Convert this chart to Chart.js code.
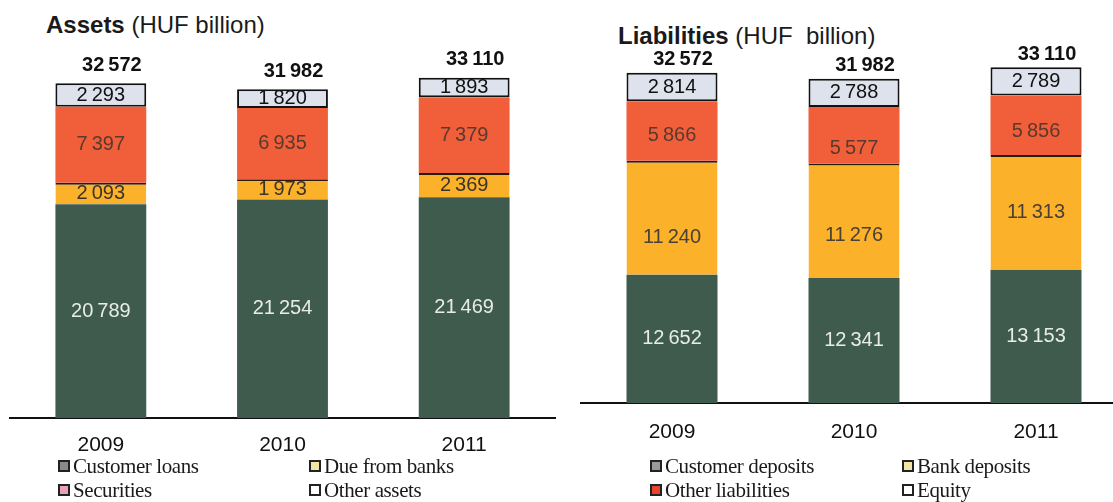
<!DOCTYPE html>
<html>
<head>
<meta charset="utf-8">
<script src="https://cdn.jsdelivr.net/npm/chart.js@4.4.1/dist/chart.umd.min.js"></script>
<style>
  html, body { margin: 0; padding: 0; background: #fff; }
  body { width: 1113px; height: 502px; position: relative; overflow: hidden; }
  canvas { position: absolute; top: 0; }
  #assets { left: 0; }
  #liabilities { left: 550px; }
  .title { position: absolute; font: 24px "Liberation Sans", Arial, sans-serif; color: #1a1a1a; line-height: 24px; white-space: pre; }
  .item { position: absolute; white-space: nowrap; font: 21px "Liberation Serif", serif; color: #1a1a1a; line-height: 22px; letter-spacing: -0.4px; }
  .sw { display: inline-block; width: 8px; height: 8px; border: 2px solid #222; margin-right: 3px; vertical-align: 1px; }
</style>
</head>
<body>
<div class="title" style="left:46px; top:13px"><b>Assets</b> (HUF billion)</div>
<div class="title" style="left:618px; top:24px"><b>Liabilities</b> (HUF  billion)</div>
<canvas id="assets" width="560" height="502"></canvas>
<canvas id="liabilities" width="580" height="502"></canvas>
<div id="assetsLegend"></div>
<div id="liabilitiesLegend"></div>

<script>
const years = ['2009', '2010', '2011']

// assets side
const customerLoans = [20789, 21254, 21469]
const dueFromBanks = [2093, 1973, 2369]
const securities = [7397, 6935, 7379]
const otherAssets = [2293, 1820, 1893]
const assetTotals = [32572, 31982, 33110]

// liabilities side
const customerDeposits = [12652, 12341, 13153]
const bankDeposits = [11240, 11276, 11313]
const otherLiabilities = [5866, 5577, 5856]
const equity = [2814, 2788, 2789]
const liabilityTotals = [32572, 31982, 33110]

const green = 'rgb(62, 91, 77)'
const yellow = 'rgb(251, 177, 42)'
const red = 'rgb(240, 94, 58)'
const pale = 'rgb(221, 226, 236)'
const labelFamily = '"Liberation Sans", Arial, sans-serif'

// thin space as thousands separator
const fmt = v => String(v).replace(/\B(?=(\d{3})+(?!\d))/g, '\u2009')

const barLabels = {
    id: 'barLabels',
    afterDatasetsDraw(chart, args, opts) {
        const ctx = chart.ctx
        ctx.save()
        ctx.textAlign = 'center'
        ctx.textBaseline = 'middle'
        chart.data.datasets.forEach((ds, di) => {
            chart.getDatasetMeta(di).data.forEach((bar, i) => {
                const shift = ds.labelShift ? ds.labelShift[i] : 0
                ctx.font = '20px ' + labelFamily
                ctx.fillStyle = ds.labelColor
                ctx.fillText(fmt(ds.data[i]), bar.x, (bar.y + bar.base) / 2 + shift)
            })
        })
        const top = chart.getDatasetMeta(chart.data.datasets.length - 1)
        ctx.font = 'bold 20px ' + labelFamily
        ctx.fillStyle = '#111'
        top.data.forEach((bar, i) => {
            ctx.fillText(fmt(opts.totals[i]), bar.x + opts.dx, bar.y + opts.dy)
        })
        ctx.restore()
    }
}

function dataset(label, data, color, labelColor, extra) {
    return Object.assign({
        label: label,
        data: data,
        backgroundColor: color,
        borderWidth: 0,
        labelColor: labelColor
    }, extra || {})
}

function makeChart(id, datasets, totals, padding, tickPadding, dy) {
    return new Chart(document.getElementById(id), {
        type: 'bar',
        data: { labels: years, datasets: datasets },
        options: {
            responsive: false,
            animation: false,
            layout: { padding: padding },
            datasets: { bar: { barPercentage: 0.5, categoryPercentage: 1 } },
            plugins: {
                legend: { display: false },
                tooltip: { enabled: false },
                barLabels: { totals: totals, dx: 11, dy: dy }
            },
            scales: {
                x: {
                    stacked: true,
                    grid: { display: false, drawTicks: false },
                    border: { color: '#111', width: 2 },
                    ticks: { color: '#111', padding: tickPadding, font: { family: labelFamily, size: 21 } },
                    afterFit: scale => { scale.height = 40 }
                },
                y: { stacked: true, display: false, min: 0, max: 36000 }
            }
        },
        plugins: [barLabels]
    })
}

const boxBorder = { borderWidth: 2, borderColor: '#111', borderSkipped: false }
const seam = { borderWidth: { top: 2, left: 0, right: 0, bottom: 0 }, borderColor: '#2a1a10', borderSkipped: false }

const assetsChart = makeChart('assets', [
    dataset('Customer loans', customerLoans, green, '#e8ece9'),
    dataset('Due from banks', dueFromBanks, yellow, '#3c3428', seam),
    dataset('Securities', securities, red, '#5a3a2e'),
    dataset('Other assets', otherAssets, pale, '#111', boxBorder)
], assetTotals, { left: 10, right: 5, top: 48, bottom: 44 }, 15, -18)

const liabilitiesChart = makeChart('liabilities', [
    dataset('Customer deposits', customerDeposits, green, '#e8ece9'),
    dataset('Bank deposits', bankDeposits, yellow, '#4a4034', Object.assign({ labelShift: [20, 15, 0] }, seam)),
    dataset('Other liabilities', otherLiabilities, red, '#5a3a2e', { labelShift: [4, 13, 6] }),
    dataset('Equity', equity, pale, '#111', boxBorder)
], liabilityTotals, { left: 31, right: 3, top: 38, bottom: 59 }, 17, -13)

// legend swatches as printed under each panel
const assetSwatches = ['#8a8a8a', '#efe6a8', '#e7a3b4', '#ffffff']
const liabilitySwatches = ['#9a9a9a', '#efe6a8', '#e8452c', '#ffffff']

function buildLegend(el, chart, swatches, cols, rows) {
    chart.data.datasets.forEach((ds, i) => {
        const item = document.createElement('div')
        item.className = 'item'
        item.style.left = cols[i % 2] + 'px'
        item.style.top = rows[Math.floor(i / 2)] + 'px'
        const sw = document.createElement('span')
        sw.className = 'sw'
        sw.style.background = swatches[i]
        item.appendChild(sw)
        item.appendChild(document.createTextNode(ds.label))
        el.appendChild(item)
    })
}

buildLegend(document.getElementById('assetsLegend'), assetsChart, assetSwatches, [58, 309], [455, 479])
buildLegend(document.getElementById('liabilitiesLegend'), liabilitiesChart, liabilitySwatches, [650, 902], [455, 479])
</script>
</body>
</html>
